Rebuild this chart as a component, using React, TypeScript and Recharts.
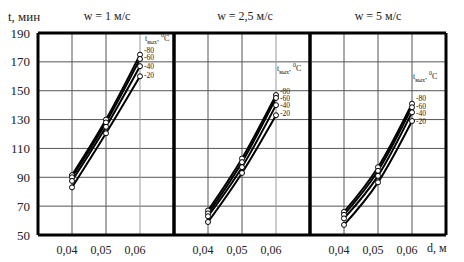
import React from 'react';
import { LineChart, Line, XAxis, YAxis, ReferenceLine, LabelList } from 'recharts';

// диаметр, м
const diameters = [0.04, 0.05, 0.06];
const tempLabels = ['-80', '-60', '-40', '-20'];
const yTicks = [50, 70, 90, 110, 130, 150, 170, 190];
const xTicks = [0.04, 0.05, 0.06];

// t, мин при w = 1 м/с (по t_вых -80, -60, -40, -20)
const w1m80 = [91.5, 130, 175];
const w1m60 = [90, 128, 172];
const w1m40 = [87.5, 125, 167];
const w1m20 = [83, 120.5, 160];

// w = 2,5 м/с
const w25m80 = [67, 103, 147];
const w25m60 = [65, 100.5, 145];
const w25m40 = [63, 97, 140];
const w25m20 = [59, 93, 133];

// w = 5 м/с
const w5m80 = [66, 97, 141];
const w5m60 = [64, 94.5, 138.5];
const w5m40 = [61.5, 91, 135];
const w5m20 = [57, 86.5, 129];

const keys = ['m80', 'm60', 'm40', 'm20'];
const serif = '"Liberation Serif", "Times New Roman", serif';

function rows(series: number[][]) {
  return diameters.map((d, i) => {
    const r: Record<string, number> = { d };
    keys.forEach((k, j) => { r[k] = series[j][i]; });
    return r;
  });
}

// labelDy: small vertical nudges so the end labels don't collide
const panels = [
  { title: 'w = 1 м/с', data: rows([w1m80, w1m60, w1m40, w1m20]), left: 0, width: 176, yAxis: true, titleX: 107, cap: [145, 34], labelDy: [-4, -2, 0, -1] },
  { title: 'w = 2,5 м/с', data: rows([w25m80, w25m60, w25m40, w25m20]), left: 172, width: 140, yAxis: false, titleX: 245, cap: [277, 64], labelDy: [-4, 0, 0, -2] },
  { title: 'w = 5 м/с', data: rows([w5m80, w5m60, w5m40, w5m20]), left: 308, width: 140, yAxis: false, titleX: 378, cap: [413, 72], labelDy: [-5, -1, 1.5, 0] },
];

function Panel({ p }: { p: (typeof panels)[number] }) {
  return (
    <div style={{ position: 'absolute', left: p.left, top: 0 }}>
      <LineChart
        width={p.width}
        height={262}
        data={p.data}
        margin={{ top: 33, right: 2, bottom: 0, left: p.yAxis ? 0 : 2 }}
      >
        <XAxis
          dataKey="d"
          type="number"
          domain={[0.03, 0.07]}
          ticks={xTicks}
          tickFormatter={(v: number) => v.toFixed(2).replace('.', ',')}
          tickLine={false}
          axisLine={false}
          tickMargin={4}
          height={27}
          tick={{ fontSize: 12, fontFamily: serif, fill: '#222', dx: -5 }}
        />
        <YAxis
          type="number"
          domain={[50, 190]}
          ticks={yTicks}
          hide={!p.yAxis}
          width={38}
          tickLine={false}
          axisLine={false}
          tick={{ fontSize: 13, fontFamily: serif, fill: '#222' }}
        />
        {yTicks.slice(1, -1).map((t) => (
          <ReferenceLine key={'h' + t} y={t} stroke="#555" strokeWidth={1} />
        ))}
        {xTicks.map((t) => (
          <ReferenceLine key={'v' + t} x={t} stroke={t === 0.06 && p.left < 300 ? '#999' : '#555'} strokeWidth={1} />
        ))}
        <ReferenceLine x={0.03} stroke="#000" strokeWidth={3} />
        <ReferenceLine x={0.07} stroke="#000" strokeWidth={3} />
        <ReferenceLine y={50} stroke="#000" strokeWidth={3} />
        <ReferenceLine y={190} stroke="#000" strokeWidth={3} />
        {keys.map((k, j) => (
          <Line
            key={k}
            dataKey={k}
            type="monotone"
            stroke="#000"
            strokeWidth={2}
            dot={{ r: 2.5, fill: '#fff', stroke: '#000', strokeWidth: 1 }}
            isAnimationActive={false}
          >
            <LabelList
              dataKey={k}
              content={(props: any) =>
                props.index === diameters.length - 1 ? (
                  <text
                    x={Number(props.x) + 4}
                    y={Number(props.y) + p.labelDy[j]}
                    dy="0.35em"
                    fontSize={7.5}
                    fontFamily={serif}
                    fill="#222"
                  >
                    {tempLabels[j]}
                  </text>
                ) : null
              }
            />
          </Line>
        ))}
      </LineChart>
    </div>
  );
}

export default function App() {
  return (
    <div style={{ position: 'absolute', left: 0, top: 0, width: 464, height: 262, background: '#fff', fontFamily: serif, color: '#222' }}>
      {panels.map((p) => (
        <Panel key={p.title} p={p} />
      ))}
      <div style={{ position: 'absolute', left: 8, top: 9, fontSize: 13 }}>t, мин</div>
      {panels.map((p) => (
        <div
          key={'t' + p.title}
          style={{ position: 'absolute', left: p.titleX - 40, width: 80, top: 9, fontSize: 12, textAlign: 'center' }}
        >
          {p.title}
        </div>
      ))}
      {panels.map((p) => (
        <div
          key={'c' + p.title}
          style={{ position: 'absolute', left: p.cap[0], top: p.cap[1], fontSize: 8, lineHeight: '9px', whiteSpace: 'nowrap' }}
        >
          t<sub style={{ fontSize: 6, lineHeight: 0 }}>вых</sub>, <sup style={{ fontSize: 6, lineHeight: 0 }}>0</sup>C
        </div>
      ))}
      <div style={{ position: 'absolute', left: 427, top: 241, fontSize: 12 }}>d, м</div>
    </div>
  );
}
